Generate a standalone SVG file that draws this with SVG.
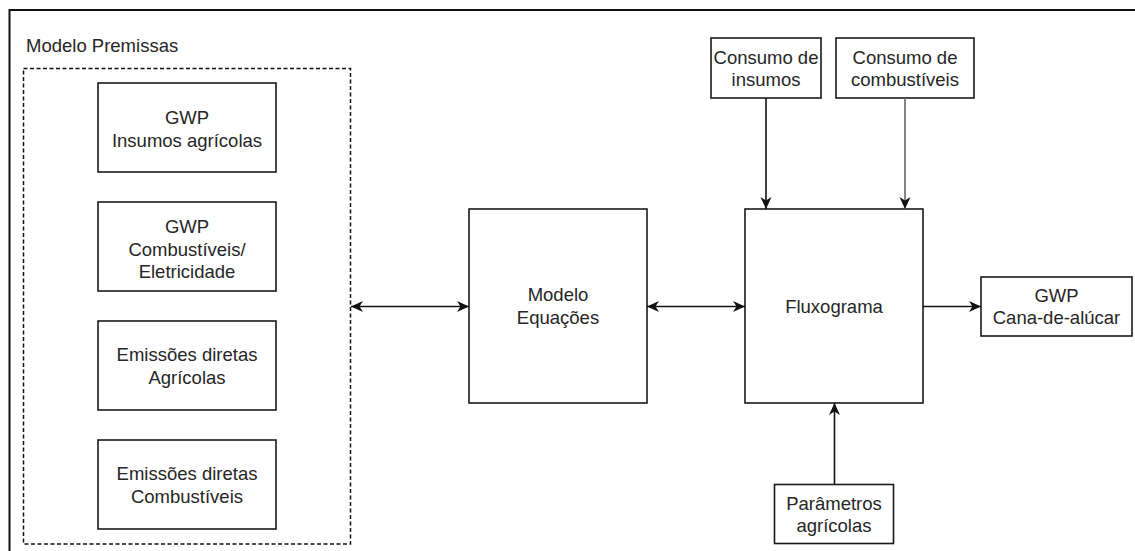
<svg xmlns="http://www.w3.org/2000/svg" width="1135" height="551" viewBox="0 0 1135 551">
<style>
.box{fill:#fff;stroke:#1a1a1a;stroke-width:1.6}
.t{font-family:"Liberation Sans",Arial,sans-serif;font-size:18.5px;fill:#262626;text-anchor:middle}
.c{fill:none;stroke:#111;stroke-width:1.6}
</style>
<defs>
<marker id="ah" markerUnits="userSpaceOnUse" markerWidth="13" markerHeight="12" refX="12" refY="6" orient="auto-start-reverse" viewBox="0 0 13 12">
<path d="M0,0.5 L12,6 L0,11.5 L3.5,6 Z" fill="#111"/>
</marker>
</defs>
<rect width="1135" height="551" fill="#fff"/>
<g id="frame">
<path d="M9.5,560 L9.5,10 L1140,10" fill="none" stroke="#111" stroke-width="2"/>
</g>
<g id="modelo-premissas">
<text x="26" y="52" class="t" style="text-anchor:start">Modelo Premissas</text>
<rect x="23.5" y="68.5" width="327" height="475.5" fill="none" stroke="#111" stroke-width="1.5" stroke-dasharray="4 2.5"/>
</g>
<g id="gwp-insumos">
<rect class="box" x="98" y="83" width="178" height="89"/>
<text class="t" x="187" y="124">GWP</text>
<text class="t" x="187" y="146.5">Insumos agrícolas</text>
</g>
<g id="gwp-combustiveis">
<rect class="box" x="98" y="202" width="178" height="89"/>
<text class="t" x="187" y="233">GWP</text>
<text class="t" x="187" y="255.5">Combustíveis/</text>
<text class="t" x="187" y="278">Eletricidade</text>
</g>
<g id="emissoes-agricolas">
<rect class="box" x="98" y="321" width="178" height="89"/>
<text class="t" x="187" y="361">Emissões diretas</text>
<text class="t" x="187" y="383.5">Agrícolas</text>
</g>
<g id="emissoes-combustiveis">
<rect class="box" x="98" y="440" width="178" height="89"/>
<text class="t" x="187" y="480">Emissões diretas</text>
<text class="t" x="187" y="502.5">Combustíveis</text>
</g>
<g id="modelo-equacoes">
<rect class="box" x="469" y="209" width="178" height="194"/>
<text class="t" x="558" y="301">Modelo</text>
<text class="t" x="558" y="323.5">Equações</text>
</g>
<g id="fluxograma">
<rect class="box" x="745" y="209" width="178" height="194"/>
<text class="t" x="834" y="312.5">Fluxograma</text>
</g>
<g id="consumo-insumos">
<rect class="box" x="711" y="38" width="110" height="60"/>
<text class="t" x="766" y="64">Consumo de</text>
<text class="t" x="766" y="86">insumos</text>
</g>
<g id="consumo-combustiveis">
<rect class="box" x="836" y="38" width="138" height="60"/>
<text class="t" x="905" y="64">Consumo de</text>
<text class="t" x="905" y="86">combustíveis</text>
</g>
<g id="parametros-agricolas">
<rect class="box" x="774.5" y="484.5" width="119" height="59"/>
<text class="t" x="834" y="510">Parâmetros</text>
<text class="t" x="834" y="532">agrícolas</text>
</g>
<g id="gwp-cana">
<rect class="box" x="981" y="277" width="151" height="59"/>
<text class="t" x="1056.5" y="302">GWP</text>
<text class="t" x="1056.5" y="324">Cana-de-alúcar</text>
</g>
<g id="connectors">
<line class="c" x1="351" y1="306.5" x2="469" y2="306.5" marker-start="url(#ah)" marker-end="url(#ah)"/>
<line class="c" x1="647" y1="306.5" x2="745" y2="306.5" marker-start="url(#ah)" marker-end="url(#ah)"/>
<line class="c" x1="923" y1="306.5" x2="981" y2="306.5" marker-end="url(#ah)"/>
<line class="c" x1="766" y1="98" x2="766" y2="209" marker-end="url(#ah)"/>
<line class="c" x1="905" y1="98" x2="905" y2="209" marker-end="url(#ah)" style="stroke:#666"/>
<line class="c" x1="834.5" y1="484.5" x2="834.5" y2="403" marker-end="url(#ah)"/>
</g>
</svg>
